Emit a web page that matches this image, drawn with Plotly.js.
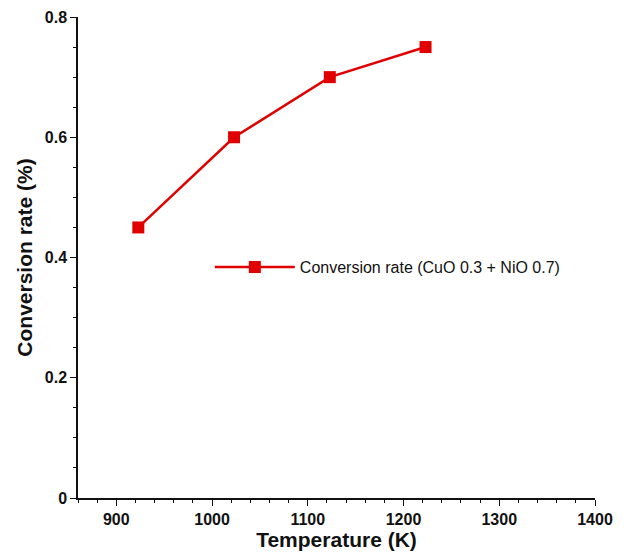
<!DOCTYPE html>
<html><head><script src="https://cdn.plot.ly/plotly-3.0.1.min.js"></script>
<style>body{margin:0}</style></head><body>
<div id="plot" style="width:640px;height:555px"></div>
<script>
var temperature = [923, 1023, 1123, 1223];
var conversion = [0.45, 0.60, 0.70, 0.75];

var trace = {
    x: temperature, y: conversion,
    mode: 'lines+markers', type: 'scatter',
    name: 'Conversion rate (CuO 0.3 + NiO 0.7)',
    line: {color: '#e00000', width: 2.5},
    marker: {symbol: 'square', size: 12, color: '#e00000'}
};

var axisFont = {family: 'Liberation Sans, Arial', size: 16, color: '#111', weight: 'bold'};
var layout = {
    margin: {l: 78, r: 45, t: 17, b: 57},
    paper_bgcolor: 'white', plot_bgcolor: 'white',
    font: {family: 'Liberation Sans, Arial', color: '#111'},
    showlegend: true,
    legend: {x: 0.255, y: 0.48, xanchor: 'left', yanchor: 'middle',
             font: {size: 16, family: 'Liberation Sans, Arial'}, itemwidth: 80},
    xaxis: {
        range: [860, 1400], tickvals: [900, 1000, 1100, 1200, 1300, 1400],
        showline: true, linecolor: '#111', linewidth: 1.5, showgrid: false, zeroline: false,
        ticks: 'outside', ticklen: 6, tickcolor: '#111',
        minor: {dtick: 20, ticks: 'outside', ticklen: 3, tickcolor: '#111'},
        tickfont: axisFont,
        title: {text: '<b>Temperature (K)</b>', font: {size: 21}, standoff: 4}
    },
    yaxis: {
        range: [0, 0.8], dtick: 0.2, tickformat: '.1~f',
        showline: true, linecolor: '#111', linewidth: 1.5, showgrid: false, zeroline: false,
        ticks: 'outside', ticklen: 6, tickcolor: '#111',
        minor: {dtick: 0.05, ticks: 'outside', ticklen: 3, tickcolor: '#111'},
        tickfont: axisFont,
        title: {text: '<b>Conversion rate (%)</b>', font: {size: 21}, standoff: 6}
    }
};
Plotly.newPlot('plot', [trace], layout, {displayModeBar: false});
</script></body></html>
